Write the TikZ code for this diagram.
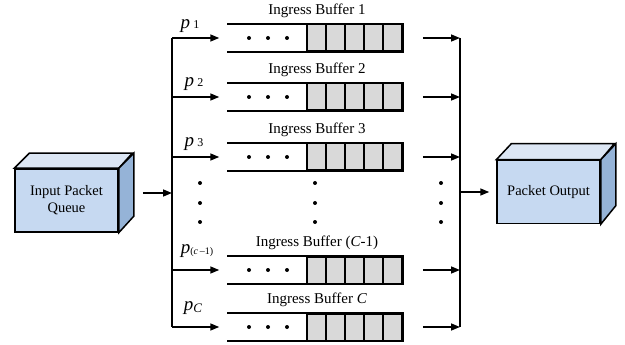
\documentclass[tikz,border=0pt]{standalone}
\usepackage{fontspec}
\setmainfont{Liberation Serif}
\usetikzlibrary{arrows.meta}
\definecolor{cubefront}{HTML}{C6D9F1}
\definecolor{cubetop}{HTML}{DCE6F4}
\definecolor{cubeside}{HTML}{95B3D7}
\definecolor{cellgray}{HTML}{D9D9D9}
\begin{document}
\begin{tikzpicture}[x=1pt,y=-1pt,
  line width=1.5pt,
  arr/.style={-{Triangle[length=9pt,width=7pt]}},
  cube/.style={draw,fill=cubefront,minimum width=103pt,minimum height=63pt,inner sep=0pt,align=center,font=\fontsize{14.5}{17}\selectfont},
  bufbox/.style={minimum width=174pt,minimum height=27pt,inner sep=0pt},
  bufline/.style={line width=2pt},
  buftitle/.style={font=\fontsize{15}{17}\selectfont},
  plabel/.style={font=\fontsize{19}{20}\selectfont\itshape,inner sep=0pt},
]
\useasboundingbox (0,0) rectangle (625,345);

% input cube
\node[cube] (in) at (66.5,200.5) {Input Packet\\Queue};
\draw[fill=cubetop] (in.north west) -- ++(15,-15) -- ++(103,0) -- (in.north east) -- cycle;
\draw[fill=cubeside] (in.north east) -- ++(15,-15) -- ++(0,63) -- (in.south east) -- cycle;

% output cube
\node[cube] (out) at (548.5,192) {Packet Output};
\draw[fill=cubetop] (out.north west) -- ++(15,-16) -- ++(103,0) -- (out.north east) -- cycle;
\draw[fill=cubeside] (out.north east) -- ++(15,-16) -- ++(0,62) -- (out.south east) -- cycle;

% buses
\coordinate (lt) at (172,38);
\coordinate (lb) at (172,327);
\coordinate (rt) at (460,38);
\coordinate (rb) at (460,327);
\coordinate (lin) at (172,193);
\coordinate (rout) at (460,192);
\draw (lt) -- (lb);
\draw (rt) -- (rb);
\draw[arr] ([xshift=24pt,yshift=7.5pt]in.east) -- (lin);
\draw[arr] (rout) -- ([xshift=-7pt]out.west);

% buffers
\foreach \i/\yy/\ttl in {1/38/{Ingress Buffer 1},2/97/{Ingress Buffer 2},3/157/{Ingress Buffer 3},4/270/{Ingress Buffer (\textit{C}-1)},5/327/{Ingress Buffer \textit{C}}}{
  \node[bufbox] (b\i) at (315,\yy) {};
  \node[buftitle] (t\i) at (317,\yy-27) {\ttl};
  \foreach \k in {0,...,4}{
    \draw[bufline,fill=cellgray] (307+19*\k,\yy-13.5) rectangle (326+19*\k,\yy+13.5);
  }
  \draw[bufline] (b\i.north west) -- (b\i.north east) -- (b\i.south east) -- (b\i.south west);
  \foreach \dx in {249,268,287}{
    \fill (\dx,\yy) circle (2);
  }
  \coordinate (l\i) at (172,\yy);
  \coordinate (r\i) at (460,\yy);
  \draw[arr,shorten >=8pt] (l\i) -- (b\i.west);
  \draw[arr,shorten <=20pt] (b\i.east) -- (r\i);
}

% labels
\node[plabel] (p1) at (190,26) {p\,\raisebox{0pt}{\fontsize{12}{12}\selectfont\upshape 1}};
\node[plabel] (p2) at (194,84) {p\,\raisebox{0pt}{\fontsize{12}{12}\selectfont\upshape 2}};
\node[plabel] (p3) at (194,144) {p\,\raisebox{0pt}{\fontsize{12}{12}\selectfont\upshape 3}};
\node[plabel] (p4) at (197,251) {p\raisebox{-1pt}{\fontsize{10}{10}\selectfont\upshape(\textit{c}\,\textendash 1)}};
\node[plabel] (p5) at (193,308) {p\raisebox{-2pt}{\fontsize{13}{13}\selectfont\textit{C}}};

% vertical dots
\foreach \xx in {200,315,441}{
  \foreach \yd in {183,203,222}{
    \fill (\xx,\yd) circle (2);
  }
}
\end{tikzpicture}
\end{document}
